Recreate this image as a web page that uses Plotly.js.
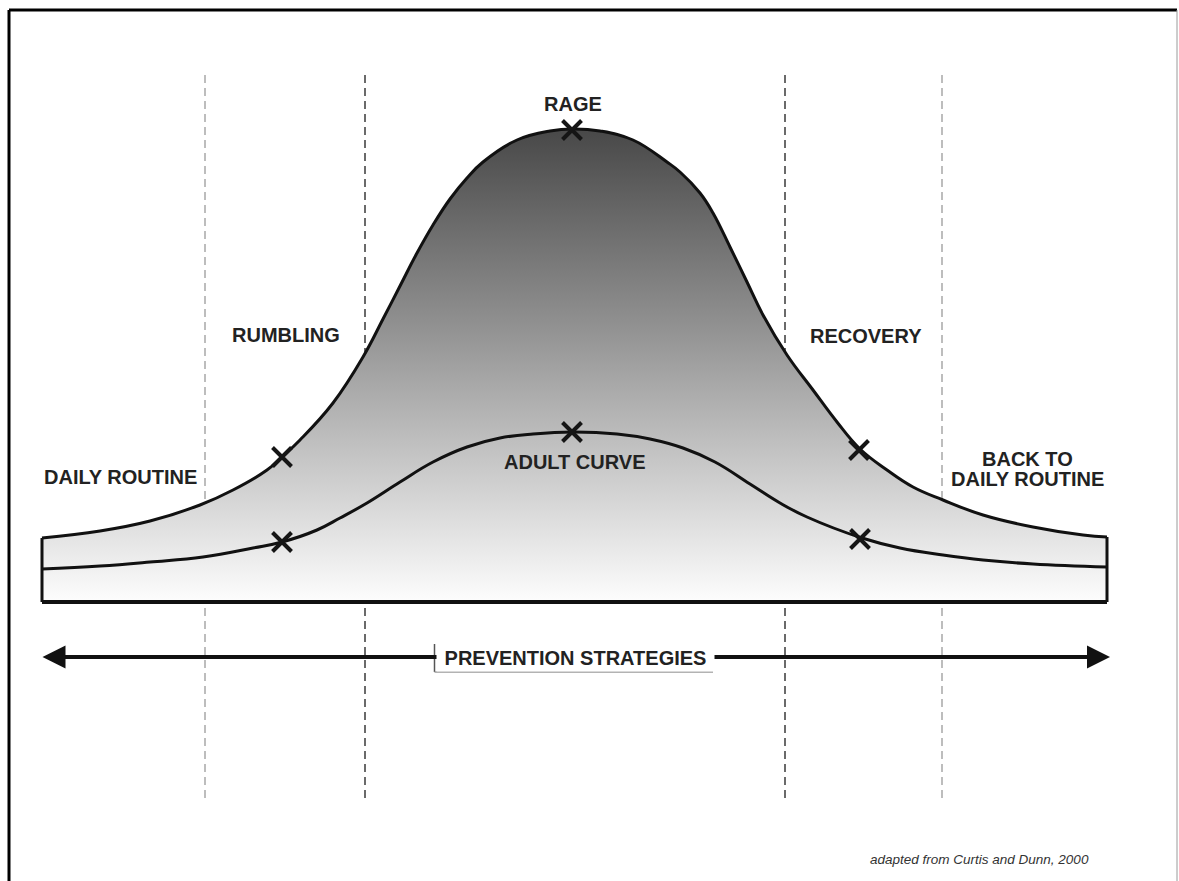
<!DOCTYPE html>
<html>
<head>
<meta charset="utf-8">
<script src="https://cdn.plot.ly/plotly-3.0.1.min.js"></script>
<style>
  html, body { margin: 0; padding: 0; background: #ffffff; }
  #chart { width: 1179px; height: 881px; }
</style>
</head>
<body>
<div id="chart"></div>
<script>
// Escalation curve (intensity above the baseline) across time
var escalationX = [42, 100, 150, 200, 233, 267, 282, 300, 333, 363, 383, 400, 417, 433, 450, 467, 483, 517, 550, 573, 600, 633, 667, 680, 700, 713, 730, 747, 763, 787, 813, 837, 860, 887, 913, 943, 983, 1033, 1083, 1107];
var escalationY = [64, 71, 81, 97, 112, 132, 145, 162, 199, 245, 283, 316, 349, 377, 403, 424, 440, 462, 471, 473, 471, 462, 440, 430, 409, 389, 355, 320, 287, 247, 212, 180, 153, 132, 115, 102, 87, 75, 67, 65];

// Adult curve
var adultX = [42, 100, 150, 203, 253, 282, 317, 340, 367, 400, 433, 467, 500, 533, 573, 617, 650, 683, 715, 750, 780, 807, 862, 900, 943, 983, 1033, 1107];
var adultY = [33, 36, 40, 45, 54, 60, 72, 84, 99, 120, 140, 155, 164, 168, 170, 168, 163, 154, 140, 118, 99, 85, 64, 54, 47, 42, 38, 35];

// Baseline extent
var baseX = [42, 1107];
var baseY = [0, 0];

// Phase boundaries (dashed lines)
var boundaryX = [205, 365, 785, 942];
var boundaryStrong = [false, true, true, false];

// X markers on the curves
var markX = [572, 282, 282, 572, 859, 860];
var markY = [472, 145, 60, 170, 152, 63];

// Text
var phaseLabels = ['RAGE', 'RUMBLING', 'RECOVERY', 'DAILY ROUTINE', 'ADULT CURVE', 'BACK TO', 'DAILY ROUTINE'];
var bandLabel = 'PREVENTION STRATEGIES';
var citation = 'adapted from Curtis and Dunn, 2000';

var curveLine = { color: '#111111', width: 3, shape: 'spline', smoothing: 1.2 };

var traces = [
  {
    x: escalationX, y: escalationY, type: 'scatter', mode: 'lines',
    fill: 'tozeroy',
    fillgradient: {
      type: 'vertical',
      start: 0, stop: 473,
      colorscale: [[0, '#fdfdfd'], [0.3, '#c6c6c6'], [0.6, '#8e8e8e'], [1, '#484848']]
    },
    line: curveLine,
    hoverinfo: 'skip', showlegend: false
  },
  {
    x: [baseX[0], baseX[0]], y: [baseY[0], escalationY[0]], type: 'scatter', mode: 'lines',
    line: { color: '#111111', width: 3 }, hoverinfo: 'skip', showlegend: false
  },
  {
    x: [baseX[1], baseX[1]], y: [baseY[1], escalationY[escalationY.length - 1]], type: 'scatter', mode: 'lines',
    line: { color: '#111111', width: 3 }, hoverinfo: 'skip', showlegend: false
  },
  {
    x: baseX, y: baseY, type: 'scatter', mode: 'lines',
    line: { color: '#111111', width: 4 },
    hoverinfo: 'skip', showlegend: false
  },
  {
    x: adultX, y: adultY, type: 'scatter', mode: 'lines',
    line: curveLine,
    hoverinfo: 'skip', showlegend: false
  },
  {
    x: markX, y: markY, type: 'scatter', mode: 'markers',
    marker: { symbol: 'x-thin', size: 19, line: { color: '#151515', width: 4 } },
    hoverinfo: 'skip', showlegend: false
  }
];

var shapes = [];
boundaryX.forEach(function (bx, i) {
  shapes.push({
    type: 'line', xref: 'x', yref: 'y', layer: 'below',
    x0: bx, x1: bx, y0: 527, y1: -201,
    line: { color: boundaryStrong[i] ? '#6a6a6a' : '#a8a8a8', width: boundaryStrong[i] ? 2 : 1.5, dash: '8px,5px' }
  });
});
// Outer frame
shapes.push({ type: 'line', xref: 'paper', yref: 'paper', x0: 9 / 1179, x1: 1177 / 1179, y0: 1 - 10 / 881, y1: 1 - 10 / 881, line: { color: '#000000', width: 3 } });
shapes.push({ type: 'line', xref: 'paper', yref: 'paper', x0: 9 / 1179, x1: 9 / 1179, y0: 1 - 10 / 881, y1: 0, line: { color: '#000000', width: 3 } });
shapes.push({ type: 'line', xref: 'paper', yref: 'paper', x0: 1177 / 1179, x1: 1177 / 1179, y0: 1 - 10 / 881, y1: 0, line: { color: '#9a9a9a', width: 1 } });
// Label box edges (left and bottom)
shapes.push({ type: 'line', xref: 'x', yref: 'y', x0: 434.5, x1: 434.5, y0: -70, y1: -42, line: { color: '#555555', width: 1.5 }, layer: 'above' });
shapes.push({ type: 'line', xref: 'x', yref: 'y', x0: 434.5, x1: 713, y0: -70, y1: -70, line: { color: '#9a9a9a', width: 1.5 }, layer: 'above' });

var labelFont = { family: 'Liberation Sans, Arial, sans-serif', size: 20, color: '#222222', weight: 'bold' };

var annotations = [
  { x: 1110, y: -55, ax: 41, ay: -55, xref: 'x', yref: 'y', axref: 'x', ayref: 'y', text: '',
    showarrow: true, arrowhead: 2, startarrowhead: 2, arrowside: 'end+start', arrowsize: 1.15, startarrowsize: 1.15,
    arrowwidth: 4, arrowcolor: '#111111', standoff: 0, startstandoff: 0 },
  { x: 573, y: 498, text: phaseLabels[0] },
  { x: 286, y: 267, text: phaseLabels[1] },
  { x: 866, y: 266, text: phaseLabels[2] },
  { x: 120, y: 125, text: phaseLabels[3] },
  { x: 574, y: 140, text: phaseLabels[4] },
  { x: 1027, y: 143, text: phaseLabels[5] },
  { x: 1027, y: 123, text: phaseLabels[6] },
  { x: 575, y: -56, text: bandLabel, bgcolor: '#ffffff', width: 277, height: 26, borderpad: 0 }
].map(function (a) {
  if (a.showarrow) return a;
  a.xref = 'x'; a.yref = 'y'; a.showarrow = false; a.font = labelFont;
  a.xanchor = 'center'; a.yanchor = 'middle';
  return a;
});
annotations.push({
  x: 1091, y: -257, xref: 'x', yref: 'y', showarrow: false, xanchor: 'right', yanchor: 'middle',
  text: '<i>' + citation + '</i>',
  font: { family: 'Liberation Sans, Arial, sans-serif', size: 13.5, color: '#333333' }
});

var layout = {
  width: 1179, height: 881,
  margin: { l: 0, r: 0, t: 0, b: 0, pad: 0 },
  paper_bgcolor: '#ffffff', plot_bgcolor: '#ffffff',
  xaxis: { range: [0, 1179], visible: false, fixedrange: true },
  yaxis: { range: [-279, 602], visible: false, fixedrange: true },
  shapes: shapes,
  annotations: annotations,
  showlegend: false,
  hovermode: false
};

Plotly.newPlot('chart', traces, layout, { displayModeBar: false, staticPlot: true });
</script>
</body>
</html>
